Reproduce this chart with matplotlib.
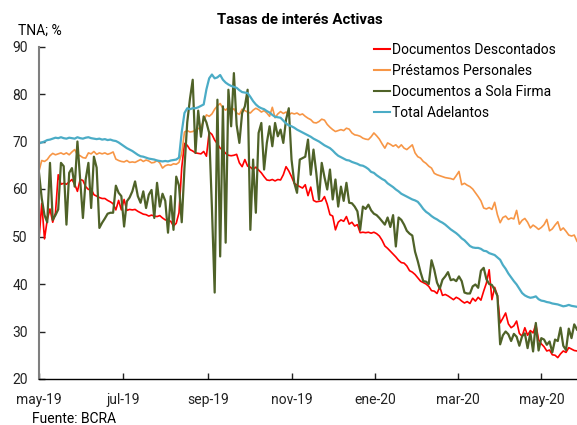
# plot.py
# Tasas de interes activas (BCRA), series diarias may-19 a may-20

import matplotlib
matplotlib.use('Agg')
import matplotlib.pyplot as plt
import matplotlib.dates as mdates
import pandas as pd

plt.rcParams['font.family'] = ['Roboto', 'DejaVu Sans']

# Fechas: una observacion cada dos dias
dates = pd.date_range('2019-05-01', periods=197, freq='2D')

doc_descontados = [
    49.3, 57.0, 49.5, 53.5, 55.8, 53.0, 55.0, 63.0, 61.0, 61.2,
    61.0, 61.5, 62.0, 61.0, 59.5, 62.0, 61.8, 60.5, 59.9, 60.0,
    58.8, 58.5, 58.2, 58.0, 58.0, 57.6, 57.3, 56.9, 55.6, 57.6,
    55.6, 57.8, 55.5, 55.7, 55.6, 55.7, 55.3, 55.0, 54.7, 54.6,
    54.3, 54.5, 54.3, 54.2, 54.4, 53.9, 53.5, 53.4, 53.2, 52.2,
    52.8, 55.0, 64.5, 69.6, 69.2, 68.3, 68.0, 67.6, 67.5, 67.4,
    67.9, 66.9, 72.0, 71.5, 70.3, 69.5, 68.6, 68.2, 67.5, 67.1,
    67.0, 67.1, 67.3, 65.5, 64.7, 66.2, 64.8, 64.6, 64.1, 64.6,
    64.0, 63.4, 62.6, 61.9, 61.8, 62.0, 61.7, 62.0, 61.9, 63.0,
    64.7, 63.8, 62.6, 61.2, 60.8, 60.5, 60.2, 60.9, 58.6, 60.4,
    57.6, 57.3, 57.4, 57.5, 58.4, 56.8, 54.6, 54.3, 51.4, 53.0,
    53.5, 53.2, 54.2, 52.6, 53.0, 52.2, 52.5, 50.8, 50.9, 50.8,
    50.9, 50.7, 50.9, 50.6, 50.1, 49.2, 48.0, 47.5, 46.9, 46.3,
    45.7, 45.0, 44.5, 44.4, 43.8, 42.8, 42.5, 42.0, 41.3, 40.6,
    40.3, 40.0, 39.5, 38.6, 38.5, 38.0, 39.4, 37.6, 37.8, 37.5,
    37.1, 36.7, 37.2, 36.9, 36.4, 36.0, 36.3, 35.9, 37.0, 36.4,
    37.2, 36.6, 38.5, 40.2, 43.0, 36.7, 39.3, 37.6, 31.8, 32.8,
    33.9, 31.6, 30.8, 31.2, 32.2, 29.6, 29.0, 30.8, 29.2, 30.2,
    29.7, 31.5, 28.3, 27.4, 26.8, 25.9, 26.1, 25.1, 25.0, 24.5,
    25.3, 25.9, 25.6, 26.6, 26.3, 26.0, 25.9,
]

prestamos_personales = [
    63.8, 66.0, 65.8, 66.2, 67.0, 67.5, 67.2, 67.4, 67.6, 67.3,
    67.6, 67.2, 67.8, 68.3, 67.2, 67.0, 66.6, 66.5, 67.6, 67.4,
    67.9, 67.3, 67.6, 67.4, 67.6, 67.3, 67.5, 67.8, 66.3, 66.0,
    65.8, 65.7, 66.0, 65.6, 65.7, 65.6, 65.9, 66.2, 65.8, 66.1,
    65.9, 65.5, 65.6, 66.0, 65.5, 64.4, 64.9, 65.1, 65.0, 65.3,
    65.2, 65.6, 67.5, 72.0, 72.3, 72.0, 72.1, 72.4, 72.7, 73.0,
    74.4, 75.6, 75.3, 75.8, 76.8, 77.5, 78.0, 77.0, 76.6, 77.2,
    76.5, 76.9, 76.0, 75.7, 76.8, 76.5, 76.2, 76.0, 76.6, 77.0,
    76.7, 76.2, 76.5, 76.0, 75.3, 77.2, 75.0, 75.8, 76.3, 75.9,
    76.2, 75.6, 76.0, 75.8, 76.0, 75.6, 75.8, 75.3, 74.9, 74.6,
    74.0, 73.9, 74.2, 74.7, 74.5, 73.6, 73.0, 72.5, 72.1, 72.3,
    72.5, 72.3, 72.8, 72.6, 71.8, 71.4, 71.3, 71.1, 70.7, 70.5,
    70.4, 71.0, 71.8, 71.2, 70.5, 69.5, 68.6, 69.7, 69.4, 69.0,
    69.3, 68.7, 69.3, 68.6, 68.3, 68.8, 69.3, 67.6, 66.8, 66.5,
    65.8, 65.4, 64.8, 64.4, 63.3, 63.0, 62.8, 62.6, 62.4, 62.3,
    62.2, 62.0, 62.8, 63.7, 60.9, 61.2, 60.8, 60.5, 60.0, 59.2,
    58.4, 57.5, 56.0, 55.8, 56.1, 55.7, 57.2, 54.6, 52.9, 54.0,
    54.3, 53.6, 53.9, 53.7, 55.5, 52.6, 53.4, 53.8, 53.0, 51.8,
    52.4, 52.0, 51.5, 51.9, 52.5, 53.6, 51.2, 51.6, 52.4, 53.1,
    51.3, 51.8, 51.1, 50.3, 50.1, 50.3, 49.0,
]

doc_sola_firma = [
    63.4, 58.0, 54.5, 53.0, 65.5, 53.5, 54.5, 55.7, 65.5, 64.8,
    52.5, 63.4, 64.4, 60.5, 70.0, 62.0, 53.9, 62.0, 65.5, 56.0,
    66.8, 64.5, 51.8, 52.9, 53.8, 54.8, 55.0, 55.0, 60.7, 59.2,
    58.5, 52.1, 57.4, 58.2, 59.5, 61.6, 58.5, 57.1, 59.5, 56.0,
    58.8, 59.8, 53.9, 61.3, 56.3, 59.0, 57.5, 50.8, 58.5, 51.4,
    62.6, 60.7, 53.0, 64.5, 74.0, 79.0, 83.0, 67.6, 76.5, 71.0,
    75.3, 74.0, 71.8, 56.0, 38.2, 78.8, 45.8, 77.4, 48.7, 80.9,
    73.2, 84.4, 73.5, 69.7, 76.0, 77.4, 80.9, 51.4, 66.2, 55.0,
    71.8, 73.9, 64.1, 69.7, 73.2, 69.0, 73.9, 71.1, 72.5, 69.7,
    74.6, 77.0, 66.2, 61.3, 59.2, 66.2, 66.5, 66.8, 70.4, 63.0,
    68.3, 63.5, 57.8, 65.5, 62.5, 59.9, 64.1, 57.8, 62.0, 56.3,
    60.5, 57.5, 61.3, 57.1, 57.0, 56.3, 55.3, 51.4, 56.3, 55.8,
    56.7, 55.5, 54.8, 54.5, 53.9, 53.2, 52.5, 54.0, 52.0, 54.5,
    47.9, 54.0, 53.5, 52.5, 51.2, 50.6, 50.2, 46.8, 44.8, 42.5,
    40.6, 40.5, 40.0, 45.0, 43.0, 40.3, 39.0, 40.9, 41.6, 42.5,
    40.8, 41.0, 40.6, 41.6, 40.6, 38.2, 38.0, 38.0, 39.5, 39.9,
    39.2, 42.8, 43.4, 41.0, 40.0, 39.8, 38.8, 37.5, 27.3, 29.2,
    30.0, 29.4, 28.0, 29.5, 28.9, 27.0, 29.0, 29.6, 26.5, 29.7,
    25.8, 31.8, 26.0, 28.6, 28.3, 27.2, 27.9, 25.6, 28.3, 28.0,
    30.8, 27.0, 26.1, 30.6, 28.6, 31.5, 30.4,
]

total_adelantos = [
    69.6, 69.8, 70.0, 70.3, 70.4, 70.6, 70.8, 70.7, 70.9, 70.7,
    70.6, 70.8, 70.7, 70.6, 70.9, 70.7, 70.6, 70.8, 70.9, 70.7,
    70.6, 70.5, 70.6, 70.4, 70.5, 70.3, 70.4, 70.2, 70.1, 69.8,
    69.4, 69.0, 68.6, 68.3, 68.0, 67.6, 67.2, 66.9, 66.8, 66.6,
    66.4, 66.3, 66.2, 66.0, 65.9, 65.8, 65.9, 65.8, 66.0, 66.1,
    66.2, 66.6, 72.0, 76.0, 77.0, 76.8, 77.0, 77.0, 77.2, 77.5,
    77.8, 81.0, 83.3, 84.1, 83.3, 83.5, 84.0, 83.0, 82.4, 82.0,
    81.7, 81.5, 81.3, 80.8, 80.4, 80.3, 80.2, 79.4, 78.5, 77.8,
    77.3, 77.0, 76.8, 76.4, 76.1, 75.6, 75.2, 75.1, 75.0, 74.4,
    73.8, 73.4, 73.2, 72.9, 72.5, 72.2, 71.9, 71.6, 71.3, 71.0,
    70.6, 70.3, 70.0, 69.6, 69.2, 68.9, 68.6, 68.1, 67.5, 67.0,
    66.7, 66.4, 66.1, 66.0, 65.7, 65.5, 65.3, 65.0, 64.9, 64.6,
    64.2, 63.6, 63.4, 62.9, 62.5, 62.1, 61.8, 61.2, 60.8, 60.4,
    59.9, 59.5, 59.0, 58.7, 58.4, 58.1, 57.8, 57.6, 57.3, 56.6,
    55.8, 55.2, 54.8, 54.3, 53.9, 53.6, 53.2, 52.9, 52.5, 52.0,
    51.5, 51.1, 50.7, 50.2, 49.6, 49.2, 48.6, 48.0, 47.7, 47.6,
    47.6, 47.4, 47.0, 46.9, 46.5, 46.3, 46.1, 45.6, 45.1, 44.0,
    43.2, 42.2, 41.4, 40.6, 39.9, 39.0, 38.1, 37.6, 37.3, 37.1,
    37.2, 37.4, 36.8, 36.5, 36.4, 36.2, 36.1, 35.9, 35.8, 35.7,
    35.5, 35.3, 35.4, 35.6, 35.4, 35.3, 35.2,
]

# Ejes: etiquetas de meses en castellano
tick_dates = ['2019-05-01', '2019-07-01', '2019-09-01', '2019-11-01',
              '2020-01-01', '2020-03-01', '2020-05-01']
tick_labels = ['may-19', 'jul-19', 'sep-19', 'nov-19', 'ene-20', 'mar-20', 'may-20']
y_ticks = [20, 30, 40, 50, 60, 70, 80, 90]

fig = plt.figure(figsize=(5.77, 4.25), dpi=100)
ax = fig.add_axes([39/577, 1 - 379/425, 1 - 39/577, (379 - 46.5)/425])

# Dibujar las cuatro series
ax.plot(dates, doc_descontados, color='#FF0000', lw=1.2, label='Documentos Descontados')
ax.plot(dates, prestamos_personales, color='#F79646', lw=1.2, label='Préstamos Personales')
ax.plot(dates, doc_sola_firma, color='#4F6228', lw=1.6, label='Documentos a Sola Firma')
ax.plot(dates, total_adelantos, color='#4BACC6', lw=1.6, label='Total Adelantos')

ax.set_xlim(pd.Timestamp('2019-05-01'), pd.Timestamp('2020-05-27'))
ax.set_ylim(20, 90)
ax.set_yticks(y_ticks)
ax.set_xticks([mdates.date2num(pd.Timestamp(d)) for d in tick_dates])
ax.set_xticklabels(tick_labels)

# Estilo de ejes
ax.spines['top'].set_visible(False)
ax.spines['right'].set_visible(False)
ax.spines['left'].set_color('#7F7F7F')
ax.spines['left'].set_linewidth(1.5)
ax.spines['bottom'].set_color('black')
ax.spines['bottom'].set_linewidth(1.0)
ax.tick_params(axis='both', direction='in', length=4, width=1, labelsize=10, colors='#222222')
ax.tick_params(axis='x', pad=10)
ax.tick_params(axis='y', pad=8)

# Leyenda
leg = ax.legend(loc='upper left', bbox_to_anchor=(374/577, 1 - 43/425),
                bbox_transform=fig.transFigure, frameon=False, fontsize=10,
                handlelength=1.15, handletextpad=0.12, labelspacing=0.5,
                borderpad=0, borderaxespad=0)
for line in leg.get_lines():
    line.set_linewidth(1.5)

# Textos
fig.text(300/577, 1 - 20/425, 'Tasas de interés Activas', ha='center', va='center',
         fontsize=10.8, fontweight='bold')
fig.text(18/577, 1 - 31/425, 'TNA; %', ha='left', va='center', fontsize=10)
fig.text(32/577, 1 - 419/425, 'Fuente: BCRA', ha='left', va='center', fontsize=10)

fig.savefig('out.png', dpi=100)
